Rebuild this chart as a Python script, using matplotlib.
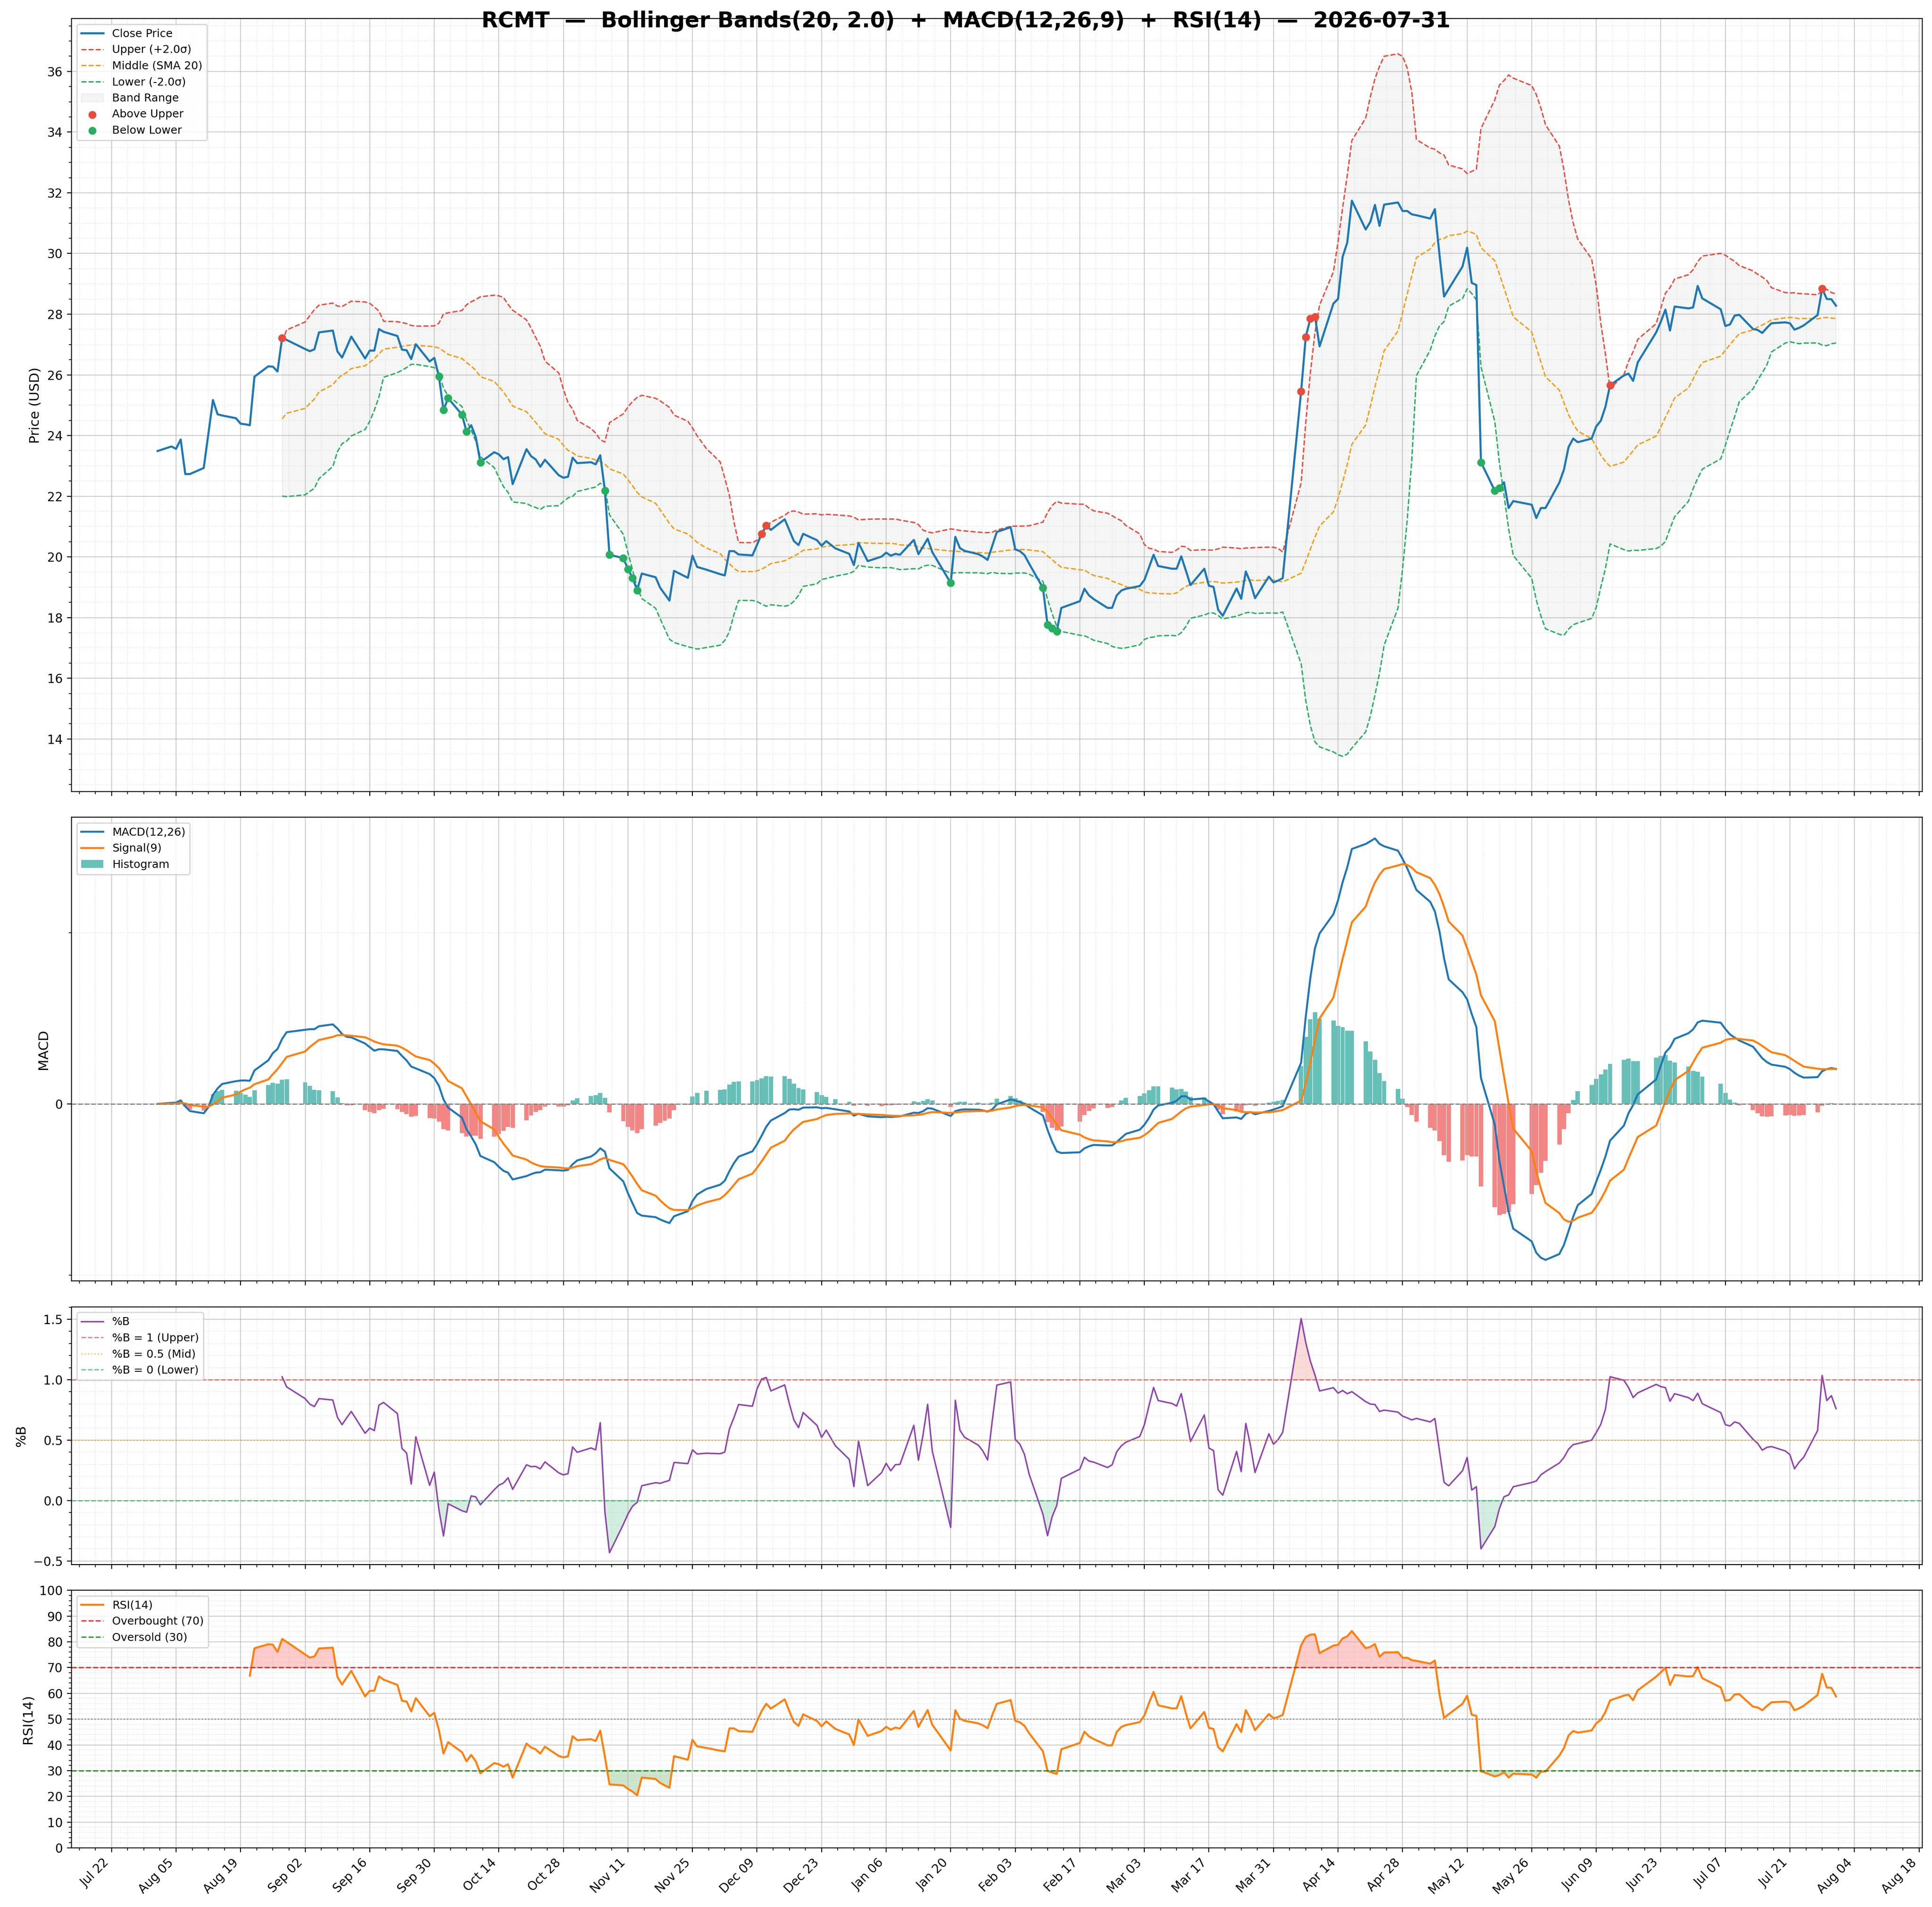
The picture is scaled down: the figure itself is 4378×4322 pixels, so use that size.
import numpy as np
import pandas as pd
import matplotlib
matplotlib.use("Agg")
import matplotlib.pyplot as plt
from matplotlib.ticker import AutoMinorLocator, FixedLocator, MultipleLocator

# ---------------- data ----------------
symbol = "RCMT"
as_of = "2026-07-31"
bb_window, bb_k = 20, 2.0
macd_fast, macd_slow, macd_sig = 12, 26, 9
rsi_period = 14

market_holidays = ["2025-09-01", "2025-11-27", "2025-12-25", "2026-01-01", "2026-01-19",
                   "2026-02-16", "2026-04-03", "2026-05-25", "2026-06-19", "2026-07-03"]

close_2025_08 = [23.49, 23.64, 23.56, 23.87, 22.73, 22.73, 22.93, 24.05, 25.17, 24.70, 24.66,
                 24.57, 24.39, 24.37, 24.34, 25.94, 26.28, 26.27, 26.11, 27.22, 27.15]
close_2025_09 = [26.85, 26.78, 26.84, 27.40, 27.46, 26.77, 26.57, 26.91, 27.26, 26.54, 26.80,
                 26.80, 27.51, 27.42, 27.28, 26.83, 26.81, 26.52, 27.01, 26.44, 26.56]
close_2025_10 = [25.95, 24.84, 25.23, 24.69, 24.13, 24.34, 23.95, 23.12, 23.45, 23.38, 23.22,
                 23.29, 22.40, 23.55, 23.32, 23.21, 22.97, 23.20, 22.69, 22.61, 22.64, 23.27, 23.09]
close_2025_11 = [23.12, 23.05, 23.35, 22.19, 20.07, 19.96, 19.60, 19.31, 18.90, 19.45, 19.33,
                 18.98, 18.77, 18.56, 19.54, 19.31, 20.04, 19.67, 19.58]
close_2025_12 = [19.43, 19.39, 20.19, 20.19, 20.08, 20.05, 20.40, 20.76, 21.04, 20.89, 21.24,
                 20.88, 20.52, 20.39, 20.76, 20.55, 20.37, 20.52, 20.28, 20.10, 19.73, 20.46]
close_2026_01 = [19.86, 20.01, 20.14, 20.04, 20.10, 20.07, 20.56, 20.09, 20.34, 20.60, 20.16,
                 19.14, 20.66, 20.29, 20.20, 20.09, 20.01, 19.90, 20.36, 20.82]
close_2026_02 = [20.98, 20.25, 20.19, 20.06, 19.78, 18.98, 17.77, 17.65, 17.55, 18.32, 18.54,
                 18.95, 18.73, 18.61, 18.32, 18.32, 18.73, 18.89, 18.95]
close_2026_03 = [19.04, 19.24, 19.65, 20.07, 19.70, 19.61, 19.61, 20.02, 19.55, 19.07, 19.61,
                 19.05, 19.01, 18.26, 18.06, 18.96, 18.62, 19.52, 19.15, 18.64, 19.35, 19.16]
close_2026_04 = [19.22, 19.30, 25.46, 27.25, 27.85, 27.92, 26.94, 28.35, 28.50, 29.89, 30.36,
                 31.74, 30.79, 31.04, 31.60, 30.91, 31.61, 31.68, 31.40, 31.40, 31.29]
close_2026_05 = [31.26, 31.15, 31.46, 29.96, 28.58, 28.83, 29.57, 30.19, 29.03, 28.96, 23.12,
                 22.18, 22.27, 22.46, 21.61, 21.84, 21.72, 21.28, 21.61, 21.61]
close_2026_06 = [22.45, 22.88, 23.62, 23.90, 23.78, 23.90, 24.30, 24.49, 24.95, 25.66, 25.98,
                 26.04, 25.80, 26.41, 27.40, 27.75, 28.15, 27.46, 28.25, 28.19, 28.22]
close_2026_07 = [28.93, 28.52, 28.16, 27.61, 27.66, 27.95, 27.98, 27.51, 27.48, 27.38, 27.55,
                 27.70, 27.73, 27.70, 27.49, 27.55, 27.63, 27.97, 28.84, 28.50, 28.49, 28.28]

tick_dates = pd.date_range("2025-07-22", "2026-08-18", freq="14D")
tick_labels = [d.strftime("%b %d") for d in tick_dates]

# ---------------- frame & indicators ----------------
dates = pd.bdate_range("2025-08-01", "2026-07-31", freq="C", holidays=market_holidays)
close_vals = (close_2025_08 + close_2025_09 + close_2025_10 + close_2025_11 + close_2025_12 +
              close_2026_01 + close_2026_02 + close_2026_03 + close_2026_04 + close_2026_05 +
              close_2026_06 + close_2026_07)
df = pd.DataFrame({"close": close_vals}, index=dates[:len(close_vals)])
c = df["close"]

df["mid"] = c.rolling(bb_window).mean()
sd = c.rolling(bb_window).std()
df["upper"] = df["mid"] + bb_k * sd
df["lower"] = df["mid"] - bb_k * sd
df["pctb"] = (c - df["lower"]) / (df["upper"] - df["lower"])

ema_f = c.ewm(span=macd_fast, adjust=False).mean()
ema_s = c.ewm(span=macd_slow, adjust=False).mean()
df["macd"] = ema_f - ema_s
df["signal"] = df["macd"].ewm(span=macd_sig, adjust=False).mean()
df["hist"] = df["macd"] - df["signal"]

delta = c.diff()
gain = delta.clip(lower=0)
loss = -delta.clip(upper=0)
avg_g = gain.ewm(alpha=1 / rsi_period, adjust=False, min_periods=rsi_period).mean()
avg_l = loss.ewm(alpha=1 / rsi_period, adjust=False, min_periods=rsi_period).mean()
df["rsi"] = 100 - 100 / (1 + avg_g / avg_l)

x = df.index
above = c > df["upper"]
below = c < df["lower"]

# ---------------- figure ----------------
fig = plt.figure(figsize=(4378 / 200, 4322 / 200), dpi=200)
gs = fig.add_gridspec(4, 1, height_ratios=[3, 1.8, 1, 1], left=0.0369, right=0.995,
                      top=0.9902, bottom=0.0310, hspace=0.0591)
ax1 = fig.add_subplot(gs[0])
ax2 = fig.add_subplot(gs[1], sharex=ax1)
ax3 = fig.add_subplot(gs[2], sharex=ax1)
ax4 = fig.add_subplot(gs[3], sharex=ax1)
axes = [ax1, ax2, ax3, ax4]

# price + bands
ax1.plot(x, c, color="#1f77b4", lw=1.7, label="Close Price", zorder=4)
ax1.plot(x, df["upper"], color="#e74c3c", lw=1.1, ls="--", label="Upper (+2.0σ)", zorder=3)
ax1.plot(x, df["mid"], color="#f39c12", lw=1.1, ls="--", label="Middle (SMA 20)", zorder=3)
ax1.plot(x, df["lower"], color="#27ae60", lw=1.1, ls="--", label="Lower (-2.0σ)", zorder=3)
ax1.fill_between(x, df["upper"], df["lower"], color="#95a5a6", alpha=0.1, label="Band Range", zorder=1)
ax1.scatter(x[above], c[above], color="#e74c3c", s=30, zorder=5, label="Above Upper")
ax1.scatter(x[below], c[below], color="#27ae60", s=30, zorder=5, label="Below Lower")
ax1.set_ylabel("Price (USD)", fontsize=11)
ax1.legend(loc="upper left", fontsize=9)

# MACD
ax2.plot(x, df["macd"], color="#1f77b4", lw=1.6, label="MACD(12,26)")
ax2.plot(x, df["signal"], color="#ff7f0e", lw=1.6, label="Signal(9)")
hcols = np.where(df["hist"].values >= 0, "#26a69a", "#ef5350")
ax2.bar(x, df["hist"], width=0.95, color=hcols, alpha=0.7, label="Histogram")
ax2.axhline(0, color="gray", lw=1.0, ls="--", alpha=0.9)
ax2.set_ylabel("MACD", fontsize=11)
ax2.legend(loc="upper left", fontsize=9)

# %B
pb = df["pctb"].values
ax3.plot(x, pb, color="#8e44ad", lw=1.2, label="%B")
ax3.axhline(1.0, color="#e74c3c", ls="--", lw=1.0, alpha=0.7, label="%B = 1 (Upper)")
ax3.axhline(0.5, color="#f39c12", ls=":", lw=1.0, alpha=0.7, label="%B = 0.5 (Mid)")
ax3.axhline(0.0, color="#27ae60", ls="--", lw=1.0, alpha=0.7, label="%B = 0 (Lower)")
pbf = np.nan_to_num(pb, nan=0.5)
ax3.fill_between(x, pbf, 1.0, where=pbf > 1.0, color="#e74c3c", alpha=0.2, interpolate=True)
ax3.fill_between(x, pbf, 0.0, where=pbf < 0.0, color="#27ae60", alpha=0.2, interpolate=True)
ax3.set_ylabel("%B", fontsize=11)
ax3.legend(loc="upper left", fontsize=9)

# RSI
r = df["rsi"].values
rf = np.nan_to_num(r, nan=50.0)
ax4.plot(x, r, color="#ff7f0e", lw=1.6, label="RSI(14)")
ax4.axhline(70, color="red", ls="--", lw=1.1, alpha=0.8, label="Overbought (70)")
ax4.axhline(30, color="green", ls="--", lw=1.1, alpha=0.8, label="Oversold (30)")
ax4.axhline(50, color="gray", ls=":", lw=1.0, alpha=0.8)
ax4.fill_between(x, rf, 70, where=rf >= 70, color="red", alpha=0.2, interpolate=True)
ax4.fill_between(x, rf, 30, where=rf <= 30, color="green", alpha=0.2, interpolate=True)
ax4.set_ylim(0, 100)
ax4.set_yticks(range(0, 101, 10))
ax4.set_ylabel("RSI(14)", fontsize=11)
ax4.legend(loc="upper left", fontsize=9)

for ax in axes:
    ax.minorticks_on()
    ax.grid(True, which="major", color="#b0b0b0", alpha=0.6, lw=0.8)
    ax.grid(True, which="minor", color="#b0b0b0", alpha=0.35, ls=":", lw=0.6)

ax1.yaxis.set_major_locator(MultipleLocator(2))
ax1.yaxis.set_minor_locator(AutoMinorLocator())
ax3.yaxis.set_major_locator(MultipleLocator(0.5))
ax3.yaxis.set_minor_locator(AutoMinorLocator())
ax2.yaxis.set_major_locator(FixedLocator([0]))
ax2.yaxis.set_minor_locator(MultipleLocator(2))

ax4.set_xticks(tick_dates)
ax4.set_xticklabels(tick_labels, rotation=45, ha="right")
ax4.xaxis.set_minor_locator(AutoMinorLocator())
for ax in axes[:-1]:
    ax.tick_params(labelbottom=False)

fig.suptitle(f"{symbol}  —  Bollinger Bands({bb_window}, {bb_k})  +  MACD({macd_fast},{macd_slow},{macd_sig})"
             f"  +  RSI({rsi_period})  —  {as_of}", fontsize=17.5, fontweight="bold", y=0.9945, va="top")

fig.savefig("out.png", dpi=200)
